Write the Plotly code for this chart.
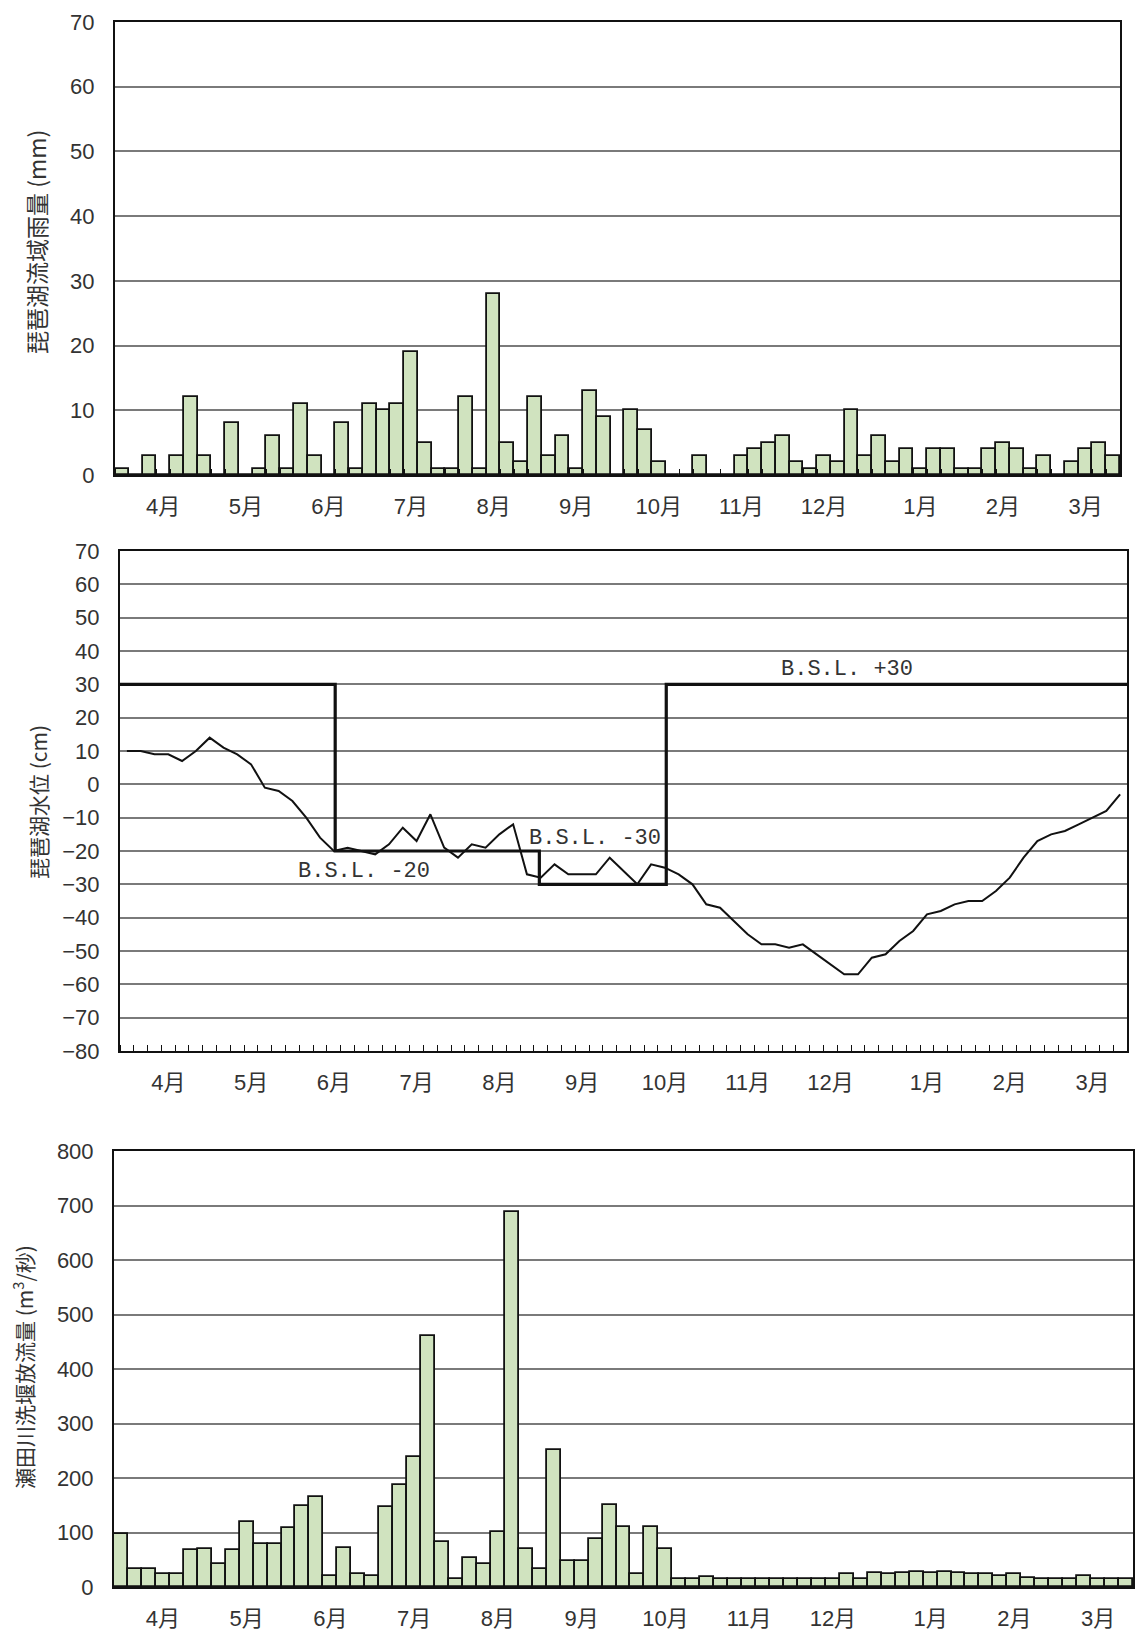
import plotly.graph_objects as go

W, H = 1139, 1634

# ---------------- data ----------------
months = ["4月", "5月", "6月", "7月", "8月", "9月", "10月", "11月", "12月", "1月", "2月", "3月"]
month_pentad = [3, 9, 15, 21, 27, 33, 39, 45, 51, 58, 64, 70]   # pentad index carrying each month label

rain_mm = [1, 0, 3, 0, 3, 12, 3, 0, 8, 0,
           1, 6, 1, 11, 3, 0, 8, 1, 11, 10,
           11, 19, 5, 1, 1, 12, 1, 28, 5, 2,
           12, 3, 6, 1, 13, 9, 0, 10, 7, 2,
           0, 0, 3, 0, 0, 3, 4, 5, 6, 2,
           1, 3, 2, 10, 3, 6, 2, 4, 1, 4,
           4, 1, 1, 4, 5, 4, 1, 3, 0, 2,
           4, 5, 3]

lake_level_cm = [10, 10, 9, 9, 7, 10, 14, 11, 9, 6,
                 -1, -2, -5, -10, -16, -20, -19, -20, -21, -18,
                 -13, -17, -9, -19, -22, -18, -19, -15, -12, -27,
                 -28, -24, -27, -27, -27, -22, -26, -30, -24, -25,
                 -27, -30, -36, -37, -41, -45, -48, -48, -49, -48,
                 -51, -54, -57, -57, -52, -51, -47, -44, -39, -38,
                 -36, -35, -35, -32, -28, -22, -17, -15, -14, -12,
                 -10, -8, -3]

# regulated (limit) water level, B.S.L. in cm, as a step line in pentad units
bsl_pentad = [0, 15.6, 15.6, 30.4, 30.4, 39.6, 39.6, 73]
bsl_cm = [30, 30, -20, -20, -30, -30, 30, 30]
bsl_text = ["B.S.L. -20", "B.S.L. -30", "B.S.L. +30"]
bsl_text_pentad = [17.7, 34.4, 52.7]
bsl_text_cm = [-26.3, -16.2, 34.4]

outflow_m3s = [97, 33, 33, 24, 24, 67, 69, 42, 67, 120,
               79, 79, 109, 148, 166, 20, 71, 24, 20, 147,
               187, 239, 461, 82, 15, 53, 42, 101, 688, 69,
               33, 251, 48, 48, 89, 150, 111, 23, 110, 70,
               15, 15, 18, 15, 15, 15, 15, 15, 15, 15,
               15, 15, 23, 15, 25, 23, 25, 28, 25, 28,
               25, 23, 23, 21, 23, 17, 14, 14, 14, 21,
               15, 15, 15]

n = len(rain_mm)
xc = [i + 0.5 for i in range(n)]
month_ticks = [p + 0.5 for p in month_pentad]

# ---------------- style ----------------
BAR_FILL = "#d0e3bf"
FONT = "Liberation Sans, Noto Sans CJK JP, sans-serif"
CJK = "Noto Sans CJK JP, sans-serif"
TXT = "#333333"
GRID = "#7a7a7a"

fig = go.Figure()

fig.add_trace(go.Bar(x=xc, y=rain_mm, width=1, marker=dict(color=BAR_FILL, line=dict(color="#111", width=1.8)),
                     xaxis="x", yaxis="y", showlegend=False))
fig.add_trace(go.Scatter(x=xc, y=lake_level_cm, mode="lines", line=dict(color="#111", width=2),
                         xaxis="x2", yaxis="y2", showlegend=False))
fig.add_trace(go.Scatter(x=bsl_pentad, y=bsl_cm, mode="lines", line=dict(color="#111", width=3.2),
                         xaxis="x2", yaxis="y2", showlegend=False))
fig.add_trace(go.Bar(x=xc, y=outflow_m3s, width=1, marker=dict(color=BAR_FILL, line=dict(color="#111", width=1.8)),
                     xaxis="x3", yaxis="y3", showlegend=False))


def px(v):
    return v / W


def py(v):
    return 1 - v / H


def xax(domain, minor):
    d = dict(domain=domain, range=[0, n], tickmode="array", tickvals=month_ticks, ticktext=months,
             ticks="", showgrid=False, zeroline=False, showline=True, mirror=True, automargin=False,
             linecolor="#111", linewidth=2, ticklabelstandoff=11,
             tickfont=dict(family=FONT, size=22, color=TXT))
    if minor:
        d["minor"] = dict(ticks="inside", tickmode="linear", tick0=0, dtick=1, ticklen=6,
                          tickwidth=1.2, tickcolor="#111", showgrid=False)
    return d


def yax(domain, rng, dtick, anchor):
    return dict(domain=domain, range=rng, dtick=dtick, tick0=rng[0], anchor=anchor,
                showgrid=True, gridcolor=GRID, gridwidth=1.5, zeroline=False, automargin=False,
                showline=True, mirror=True, linecolor="#111", linewidth=2,
                ticks="", ticklabelstandoff=14,
                tickfont=dict(family=FONT, size=22, color=TXT))


layout = dict(
    width=W, height=H, margin=dict(l=0, r=0, t=0, b=0, pad=0, autoexpand=False),
    paper_bgcolor="white", plot_bgcolor="white",
    barmode="overlay", bargap=0,
    xaxis=dict(**xax([px(115), px(1120)], True), anchor="y"),
    yaxis=yax([py(475), py(22)], [0, 70], 10, "x"),
    xaxis2=dict(**xax([px(120), px(1127)], True), anchor="y2"),
    yaxis2=yax([py(1051), py(551)], [-80, 70], 10, "x2"),
    xaxis3=dict(**xax([px(114), px(1133)], False), anchor="y3"),
    yaxis3=yax([py(1587), py(1151)], [0, 800], 100, "x3"),
)
fig.update_layout(**layout)

annotations = []
# axis titles
titles = [("琵琶湖流域雨量 (mm)", 36, 242, 23),
          ("琵琶湖水位 (cm)", 38, 802, 21),
          ("瀬田川洗堰放流量 (m<sup>3</sup>/秒)", 23, 1367, 21)]
for t, x, y, s in titles:
    annotations.append(dict(text=t, x=px(x), y=py(y), xref="paper", yref="paper",
                            textangle=-90, showarrow=False, xanchor="center", yanchor="middle",
                            font=dict(family=CJK, size=s, color=TXT)))
# B.S.L. labels on the water level chart
for t, xv, yv in zip(bsl_text, bsl_text_pentad, bsl_text_cm):
    annotations.append(dict(text=t, x=xv, y=yv, xref="x2", yref="y2", showarrow=False,
                            xanchor="center", yanchor="middle",
                            font=dict(family="Liberation Mono, monospace", size=22, color=TXT)))
fig.update_layout(annotations=annotations)

fig.write_html("out.html", config={"displayModeBar": False},
               post_script="document.body.style.margin='0';")
